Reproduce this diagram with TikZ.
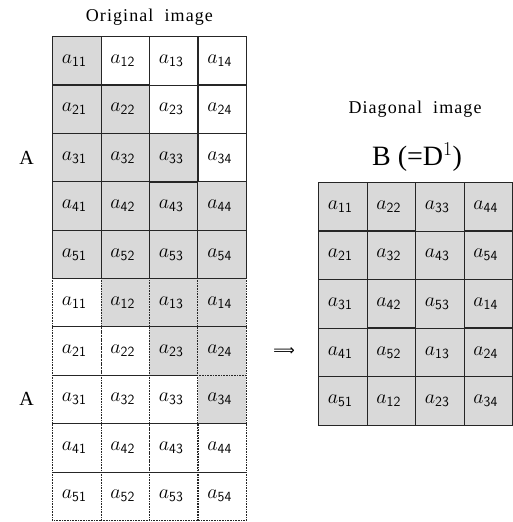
\RequirePackage{fix-cm}
\documentclass[tikz,border=0pt]{standalone}
\usepackage{fontspec}
\setmainfont{Liberation Serif}
\newfontfamily\ttlfont[LetterSpace=6]{Liberation Serif}
\newfontfamily\symfont{DejaVu Sans}
\usetikzlibrary{matrix,positioning}

\newcommand{\aent}[1]{$a_{\mathsf{#1}}$}

\begin{document}
\begin{tikzpicture}[
  x=1pt, y=1pt,
  font=\fontsize{20}{22}\selectfont,
  cell/.style={draw=black!85, line width=0.8pt, minimum width=48.5pt, minimum height=48.4pt, inner sep=0pt, align=center},
  sh/.style={cell, fill=gray!30},
  dcell/.style={cell, dash pattern=on 0.8pt off 0.8pt},
  dsh/.style={dcell, fill=gray!30},
  ttl/.style={font=\ttlfont\fontsize{18}{20}\selectfont, inner sep=0pt},
  grid/.style={matrix of nodes, inner sep=0pt, outer sep=0pt, row sep=-0.8pt, column sep=-0.8pt}
]
\useasboundingbox (0,0) rectangle (513,-522);

% Stacked copy of A: strictly upper part shaded
\matrix (bot) [grid, nodes={dcell}, anchor=north west] at (52,-277.6) {
  \aent{11} & |[dsh]|\aent{12} & |[dsh]|\aent{13} & |[dsh]|\aent{14} \\
  \aent{21} & \aent{22} & |[dsh]|\aent{23} & |[dsh]|\aent{24} \\
  \aent{31} & \aent{32} & \aent{33} & |[dsh]|\aent{34} \\
  \aent{41} & \aent{42} & \aent{43} & \aent{44} \\
  \aent{51} & \aent{52} & \aent{53} & \aent{54} \\
};

% Original A: lower part shaded
\matrix (top) [grid, nodes={cell}, anchor=north west] at (52,-36) {
  |[sh]|\aent{11} & \aent{12} & \aent{13} & \aent{14} \\
  |[sh]|\aent{21} & |[sh]|\aent{22} & \aent{23} & \aent{24} \\
  |[sh]|\aent{31} & |[sh]|\aent{32} & |[sh]|\aent{33} & \aent{34} \\
  |[sh]|\aent{41} & |[sh]|\aent{42} & |[sh]|\aent{43} & |[sh]|\aent{44} \\
  |[sh]|\aent{51} & |[sh]|\aent{52} & |[sh]|\aent{53} & |[sh]|\aent{54} \\
};

% Diagonal image B
\matrix (diagB) [grid, nodes={sh}, anchor=north west] at (318,-182) {
  \aent{11} & \aent{22} & \aent{33} & \aent{44} \\
  \aent{21} & \aent{32} & \aent{43} & \aent{54} \\
  \aent{31} & \aent{42} & \aent{53} & \aent{14} \\
  \aent{41} & \aent{52} & \aent{13} & \aent{24} \\
  \aent{51} & \aent{12} & \aent{23} & \aent{34} \\
};

\node[ttl, above=10pt of top] (orig) {Original\ \ image};
\node[left=15pt of top-3-1] (lblA) {$\mathrm{A}$};
\node[left=15pt of bot-3-1] (lblAA) {$\mathrm{A}$};

\node[ttl] (diag) at (415,-109) {Diagonal\ \ image};
\node[font=\fontsize{28}{30}\selectfont, inner sep=0pt] (bname) at (417,-157) {B (=D$^{1}$)};

\node[font=\symfont\fontsize{15}{16}\selectfont, inner sep=0pt] (arr) at (284,-352) {⟹};

\end{tikzpicture}
\end{document}
